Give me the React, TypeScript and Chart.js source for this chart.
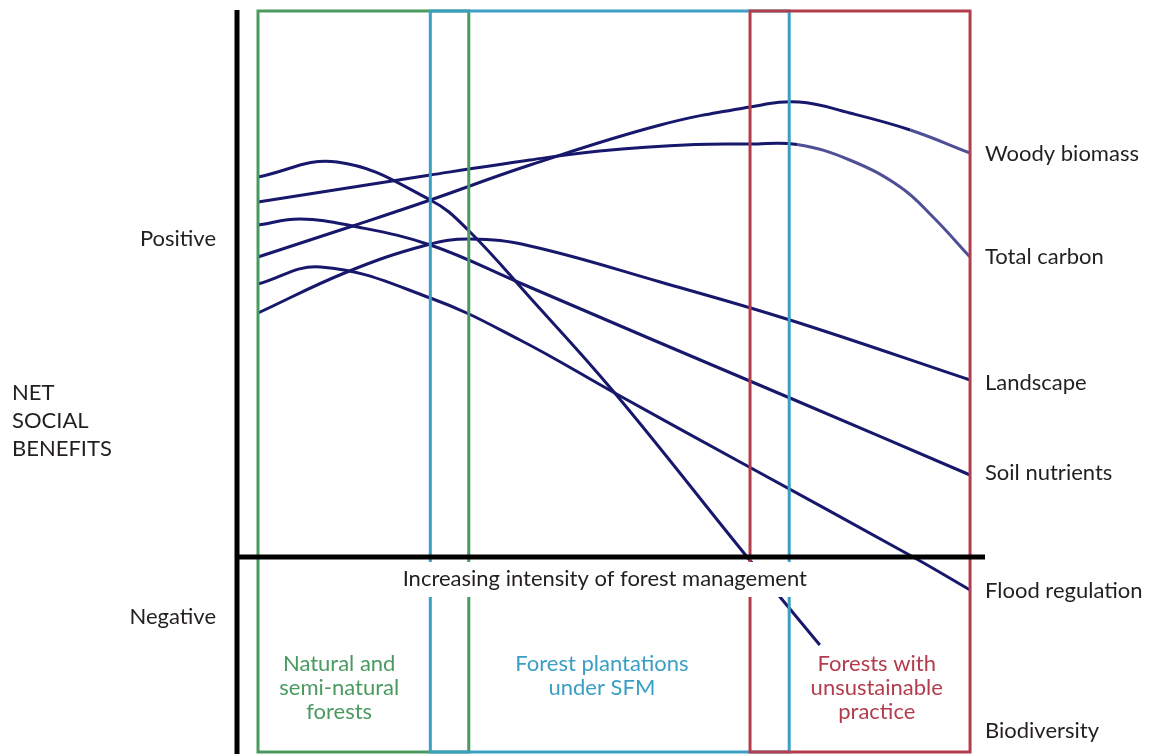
import React, { useEffect, useRef } from "react";
import { Chart, registerables } from "chart.js";

Chart.register(...registerables);

// Intensity of forest management (0 = natural, 100 = most intensive)
const woodyX = [0, 13.3, 24.2, 38.2, 56.5, 69.1, 76.0, 83.1, 91.6, 100];
const woodyY = [60.0, 66.2, 71.4, 78.4, 86.4, 90.0, 91.0, 88.8, 85.4, 80.8];

const carbonX = [0, 24.2, 38.2, 48.0, 61.4, 69.1, 75.7, 83.1, 90.2, 94.8, 100];
const carbonY = [71.0, 76.4, 79.4, 81.2, 82.5, 82.6, 82.5, 79.4, 74.0, 68.0, 60.0];

const landscapeX = [0, 12.5, 23.7, 29.8, 38.2, 56.5, 74.7, 100];
const landscapeY = [48.8, 57.0, 62.4, 63.6, 62.2, 55.0, 47.4, 35.4];

const soilX = [0, 5.9, 13.3, 24.2, 36.8, 55.5, 74.7, 100];
const soilY = [66.4, 67.6, 66.2, 62.4, 54.8, 43.4, 31.8, 16.4];

const floodX = [0, 8.8, 24.2, 36.8, 50.1, 67.7, 92.0, 100];
const floodY = [54.6, 58.0, 51.8, 43.4, 32.8, 19.0, 0, -6.6];

const bioX = [0, 11.1, 24.2, 29.5, 38.5, 50.1, 68.7, 78.9];
const bioY = [76.0, 79.0, 71.4, 65.4, 51.4, 32.8, 0, -17.6];

const seriesNames = ["Woody biomass", "Total carbon", "Landscape", "Soil nutrients", "Flood regulation", "Biodiversity"];
const labelY = [80.6, 60.0, 34.8, 16.8, -6.8, -34.8];

const zoneNames = [
  ["Natural and", "semi-natural", "forests"],
  ["Forest plantations", "under SFM"],
  ["Forests with", "unsustainable", "practice"],
];
const zoneStart = [0, 24.2, 69.1];
const zoneEnd = [29.6, 74.6, 100];
const zoneLabelX = [11.4, 48.3, 86.9];

const yAxisTitle = ["NET", "SOCIAL", "BENEFITS"];
const xAxisTitle = "Increasing intensity of forest management";
const positiveLabel = "Positive";
const negativeLabel = "Negative";

const FONT = 'Lato, "Open Sans", sans-serif';
const LINE = "#17176c";
const LIGHT = "#4f4f96";
const ZONE_COLORS = ["#4a9a60", "#3b9fc4", "#b33d4d"];
const TEXT = "#231f20";

const toPts = (xs: number[], ys: number[]) => xs.map((x, i) => ({ x, y: ys[i] }));

export default function App() {
  const ref = useRef<HTMLCanvasElement | null>(null);

  useEffect(() => {
    document.body.style.margin = "0";
    const canvas = ref.current;
    if (!canvas) return;

    const overlay = {
      id: "overlay",
      afterDatasetsDraw(chart: any) {
        const { ctx, chartArea, scales } = chart;
        const xs = scales.x;
        const ys = scales.y;
        ctx.save();

        // zone boxes
        const top = ys.getPixelForValue(109.2);
        const bottom = ys.getPixelForValue(-39.0);
        for (let i = 0; i < zoneStart.length; i++) {
          const l = xs.getPixelForValue(zoneStart[i]);
          const r = xs.getPixelForValue(zoneEnd[i]);
          ctx.strokeStyle = ZONE_COLORS[i];
          ctx.lineWidth = 3;
          ctx.strokeRect(l, top, r - l, bottom - top);
        }

        // axes
        ctx.strokeStyle = "#000";
        ctx.lineWidth = 5;
        ctx.beginPath();
        ctx.moveTo(chartArea.left, chartArea.top);
        ctx.lineTo(chartArea.left, chartArea.bottom);
        const y0 = ys.getPixelForValue(0);
        ctx.moveTo(chartArea.left, y0);
        ctx.lineTo(chartArea.right, y0);
        ctx.stroke();

        ctx.font = `22px ${FONT}`;
        ctx.textBaseline = "middle";

        // x axis title with white background
        const tx = xs.getPixelForValue(48.7);
        const ty = ys.getPixelForValue(-4.4);
        const w = ctx.measureText(xAxisTitle).width;
        ctx.fillStyle = "#fff";
        ctx.fillRect(tx - w / 2 - 10, ty - 17, w + 20, 35);
        ctx.fillStyle = TEXT;
        ctx.textAlign = "center";
        ctx.fillText(xAxisTitle, tx, ty);

        // zone labels
        for (let i = 0; i < zoneNames.length; i++) {
          ctx.fillStyle = ZONE_COLORS[i];
          const cx = xs.getPixelForValue(zoneLabelX[i]);
          zoneNames[i].forEach((line, j) => {
            ctx.fillText(line, cx, ys.getPixelForValue(-21.4) + j * 24);
          });
        }

        // series end labels
        ctx.fillStyle = TEXT;
        ctx.textAlign = "left";
        seriesNames.forEach((n, i) => {
          ctx.fillText(n, chartArea.right, ys.getPixelForValue(labelY[i]));
        });

        // y axis labels
        ctx.textAlign = "right";
        ctx.fillText(positiveLabel, chartArea.left - 21, ys.getPixelForValue(63.6));
        ctx.fillText(negativeLabel, chartArea.left - 21, ys.getPixelForValue(-12.0));
        ctx.textAlign = "left";
        yAxisTitle.forEach((line, j) => {
          ctx.fillText(line, 12, ys.getPixelForValue(32.8) + j * 28);
        });

        ctx.restore();
      },
    };

    const mk = (label: string, xs: number[], ys: number[], lightFrom?: number) => ({
      label,
      data: toPts(xs, ys),
      borderColor: LINE,
      borderWidth: 3,
      pointRadius: 0,
      fill: false,
      tension: 0.4,
      segment:
        lightFrom !== undefined
          ? { borderColor: (c: any) => (c.p0.parsed.x >= lightFrom ? LIGHT : undefined) }
          : undefined,
    });

    const chart = new Chart(canvas, {
      type: "line",
      data: {
        datasets: [
          mk(seriesNames[0], woodyX, woodyY, 91),
          mk(seriesNames[1], carbonX, carbonY, 75),
          mk(seriesNames[2], landscapeX, landscapeY),
          mk(seriesNames[3], soilX, soilY),
          mk(seriesNames[4], floodX, floodY),
          mk(seriesNames[5], bioX, bioY),
        ],
      },
      options: {
        animation: false,
        responsive: true,
        maintainAspectRatio: false,
        layout: { padding: { left: 237, right: 171, top: 10, bottom: 0 } },
        plugins: { legend: { display: false }, tooltip: { enabled: false } },
        scales: {
          x: { type: "linear", min: -2.95, max: 102.1, display: false },
          y: { type: "linear", min: -39.4, max: 109.4, display: false },
        },
      },
      plugins: [overlay],
    });
    return () => chart.destroy();
  }, []);

  return (
    <div style={{ position: "fixed", left: 0, top: 0, width: 1156, height: 754, background: "#fff" }}>
      <canvas ref={ref} />
    </div>
  );
}
